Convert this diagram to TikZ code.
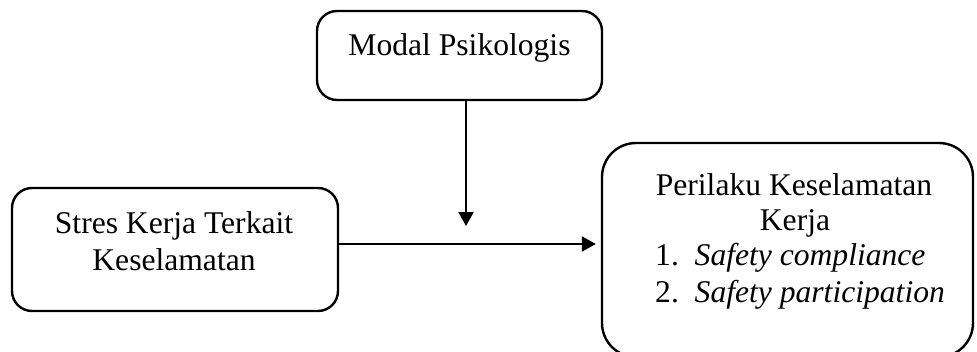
\documentclass[tikz,border=0pt]{standalone}
\usepackage{fontspec}
\setmainfont{Liberation Serif}
\usetikzlibrary{arrows.meta}
\begin{document}
\begin{tikzpicture}[x=1pt,y=-1pt,
  box/.style={draw=black,line width=2.4pt,rectangle,inner sep=0pt},
  txt/.style={anchor=base,inner sep=0pt,font=\fontsize{31.6}{36}\selectfont},
  arr/.style={line width=2pt,-{Triangle[length=14pt,width=15pt]}}]
\useasboundingbox (0,0) rectangle (977,351);
% boxes
\node[box,rounded corners=20pt,minimum width=285pt,minimum height=89pt] (mp) at (459.5,55.5) {};
\node[box,rounded corners=20pt,minimum width=326pt,minimum height=123pt] (sk) at (175,249.5) {};
\node[box,rounded corners=34pt,minimum width=371pt,minimum height=214pt] (pk) at (787.5,250) {};
% texts
\node[txt] (t1) at (459.5,55) {Modal Psikologis};
\node[txt] (t2) at (174,233) {Stres Kerja Terkait};
\node[txt] (t3) at (174,270) {Keselamatan};
\node[txt] (t4) at (794,195) {Perilaku Keselamatan};
\node[txt] (t5) at (795,230) {Kerja};
\node[txt,anchor=base west] (t6) at (655,265) {1.\ \ \textit{Safety compliance}};
\node[txt,anchor=base west] (t7) at (655,302) {2.\ \ \textit{Safety participation}};
% connectors
\coordinate (hy) at (0,244);
\coordinate (vend) at (466,226);
\draw[arr,shorten >=5pt] (sk.east |- hy) -- (pk.west |- hy);
\draw[arr] (mp.south -| vend) -- (vend);
\end{tikzpicture}
\end{document}
